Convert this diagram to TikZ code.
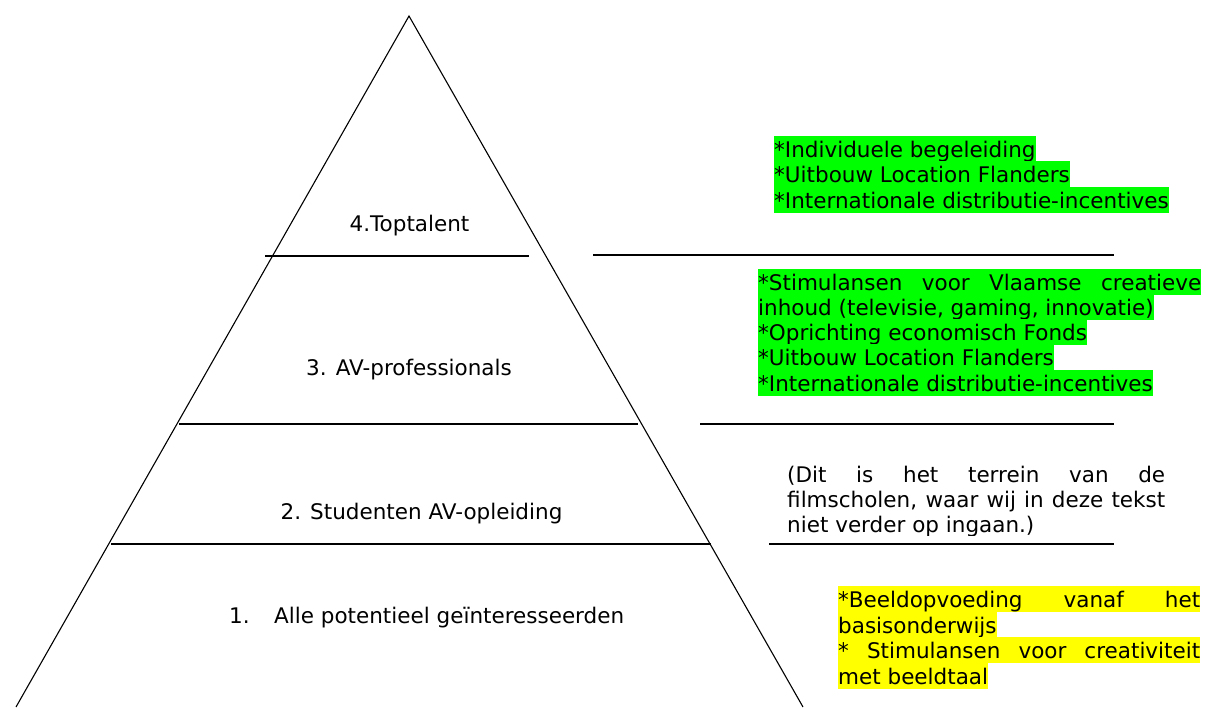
\documentclass[tikz,border=0pt]{standalone}
\usepackage{fontspec}
\setmainfont{DejaVu Sans}
\definecolor{hlgreen}{RGB}{0,255,0}
\definecolor{hlyellow}{RGB}{255,255,0}
\newcommand{\txtfont}{\fontsize{21.5}{25}\selectfont}
\tikzset{
  lbl/.style={font=\txtfont, inner sep=0pt, anchor=base},
  lblw/.style={font=\txtfont, inner sep=0pt, anchor=base west},
  hl/.style={font=\txtfont, inner sep=0pt, anchor=base west, text height=21.5pt, text depth=4.5pt, fill=#1},
  sepline/.style={line width=1.4pt},
  side/.style={line width=1.1pt}
}
\begin{document}
\begin{tikzpicture}[x=1pt,y=-1pt]
\useasboundingbox (0,0) rectangle (1206,707);
% pyramid
\coordinate (apex) at (409,16);
\coordinate (bl) at (16,707);
\coordinate (br) at (803,707);
\draw[side] (bl) -- (apex) -- (br);
% separators inside
\coordinate (a4) at (265,256); \coordinate (b4) at (529,256);
\coordinate (a3) at (179,424); \coordinate (b3) at (638,424);
\coordinate (a2) at (111,544); \coordinate (b2) at (711,544);
\draw[sepline] (a4) -- (b4);
\draw[sepline] (a3) -- (b3);
\draw[sepline] (a2) -- (b2);
% separators right
\coordinate (c4) at (593,255); \coordinate (d4) at (1114,255);
\coordinate (c3) at (700,424); \coordinate (d3) at (1114,424);
\coordinate (c2) at (769,544); \coordinate (d2) at (1114,544);
\draw[sepline] (c4) -- (d4);
\draw[sepline] (c3) -- (d3);
\draw[sepline] (c2) -- (d2);
% pyramid labels
\node[lbl] (l4) at (409.5,231.5) {4.Toptalent};
\node[lbl] (l3) at (409,375) {3. AV-professionals};
\node[lbl] (l2) at (421.5,519) {2. Studenten AV-opleiding};
\node[lblw] (l1n) at (229,623) {1.};
\node[lblw] (l1) at (274,623) {Alle potentieel geïnteresseerden};
% block 4 (green)
\node[hl=hlgreen] (g41) at (774,157) {*Individuele begeleiding};
\node[hl=hlgreen] (g42) at (774,182.5) {*Uitbouw Location Flanders};
\node[hl=hlgreen] (g43) at (774,208) {*Internationale distributie-incentives};
% block 3 (green)
\node[hl=hlgreen] (g31) at (758,290) {\makebox[443pt][s]{*Stimulansen voor Vlaamse creatieve}};
\node[hl=hlgreen] (g32) at (758,315.3) {inhoud (televisie, gaming, innovatie)};
\node[hl=hlgreen] (g33) at (758,340.6) {*Oprichting economisch Fonds};
\node[hl=hlgreen] (g34) at (758,365.9) {*Uitbouw Location Flanders};
\node[hl=hlgreen] (g35) at (758,391.2) {*Internationale distributie-incentives};
% block 2 (clipped paragraph)
\begin{scope}
\clip (780,455) rectangle (1180,535);
\node[lblw] (p1) at (787,482) {\makebox[378pt][s]{(Dit is het terrein van de}};
\node[lblw] (p2) at (787,507) {\makebox[378pt][s]{filmscholen, waar wij in deze tekst}};
\node[lblw] (p3) at (787,532) {niet verder op ingaan.)};
\end{scope}
% block 1 (yellow)
\node[hl=hlyellow] (y1) at (838,607.5) {\makebox[362pt][s]{*Beeldopvoeding vanaf het}};
\node[hl=hlyellow] (y2) at (838,633) {basisonderwijs};
\node[hl=hlyellow] (y3) at (838,658.5) {\makebox[362pt][s]{* Stimulansen voor creativiteit}};
\node[hl=hlyellow] (y4) at (838,684) {met beeldtaal};
\end{tikzpicture}
\end{document}
